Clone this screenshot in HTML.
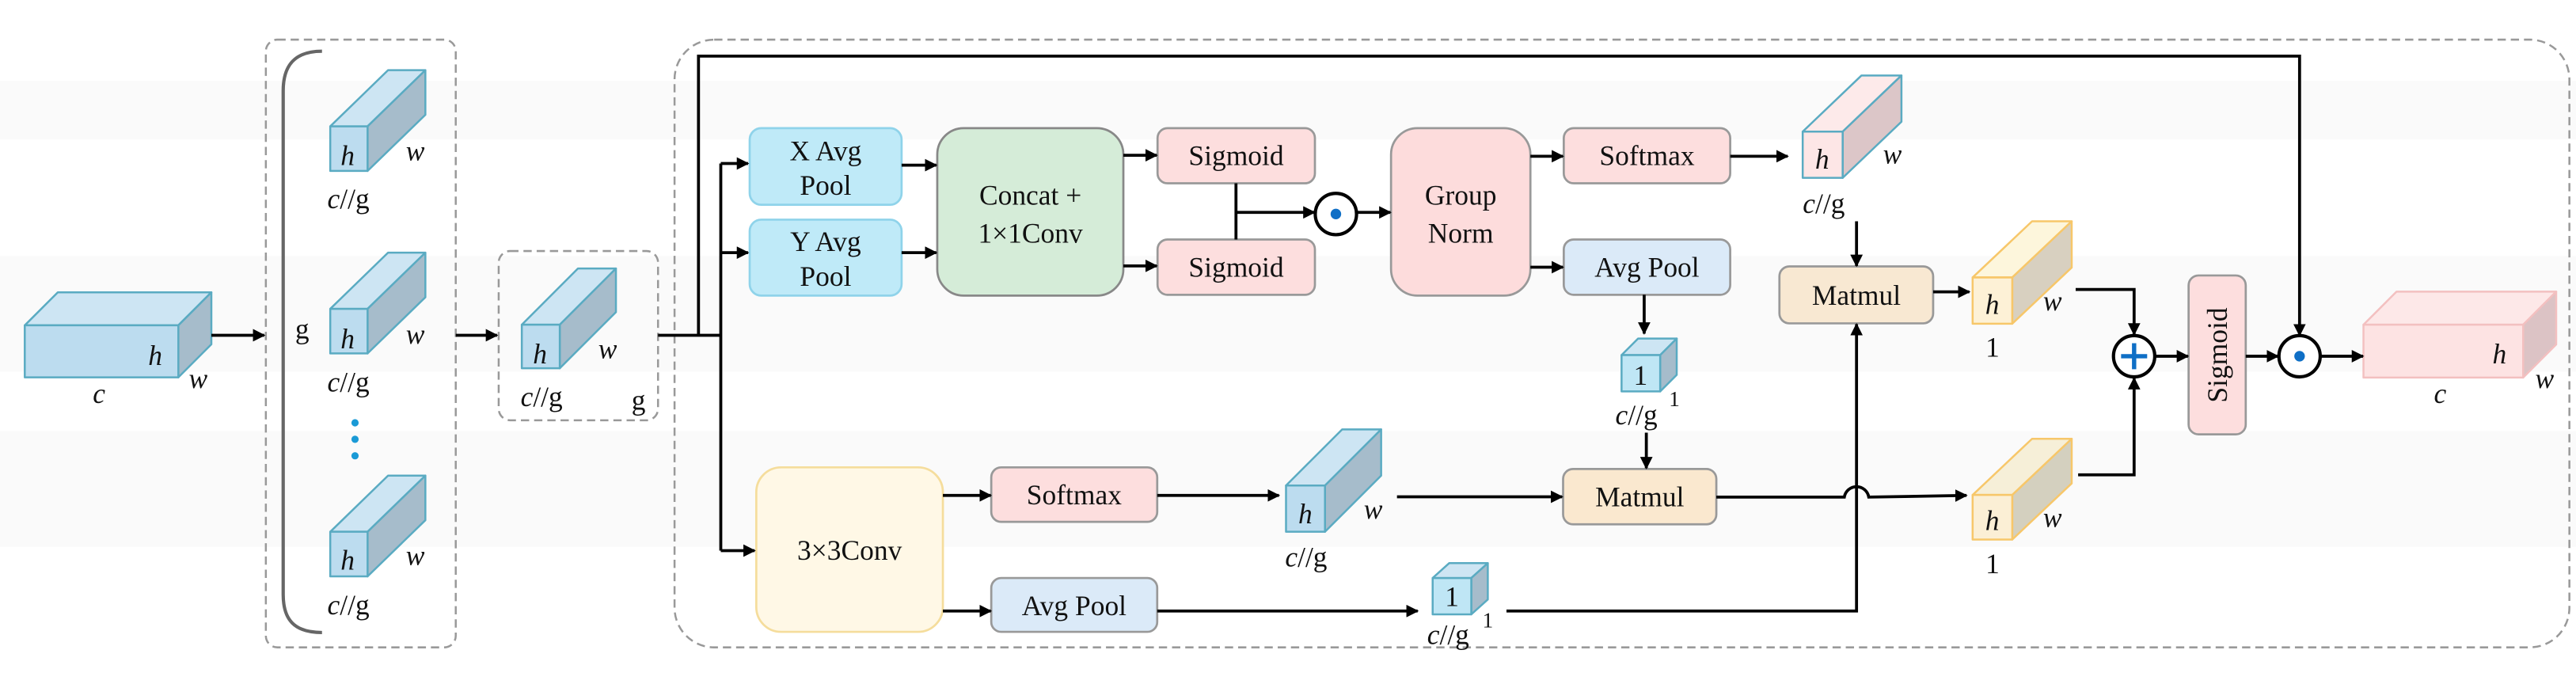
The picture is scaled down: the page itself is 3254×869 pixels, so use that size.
<!DOCTYPE html>
<html><head><meta charset="utf-8"><style>
html,body{margin:0;padding:0;background:#fff;}
svg{display:block;}
text{font-family:"Liberation Serif","DejaVu Serif",serif;fill:#111;}
.it{font-style:italic;}
</style></head><body>
<svg width="3254" height="869" viewBox="0 0 1560 416.6" preserveAspectRatio="none" xmlns="http://www.w3.org/2000/svg" font-family="Liberation Serif, serif">
<defs>
<marker id="ar" viewBox="0 0 10 10" refX="9" refY="5" markerWidth="4.2" markerHeight="4.2" orient="auto" markerUnits="strokeWidth">
<path d="M0,0 L10,5 L0,10 z" fill="#000"/></marker>
</defs>
<!-- bands -->
<rect x="0" y="49" width="1560" height="35.5" fill="#fafafa"/>
<rect x="0" y="155" width="1560" height="70" fill="#fafafa"/>
<rect x="0" y="261" width="1560" height="70" fill="#fafafa"/>

<!-- dashed boxes -->
<rect x="161" y="24" width="115" height="368" rx="7" fill="none" stroke="#999" stroke-width="1.2" stroke-dasharray="5,3"/>
<rect x="302" y="152" width="96.5" height="102.5" rx="7" fill="none" stroke="#999" stroke-width="1.2" stroke-dasharray="5,3"/>
<rect x="408.5" y="24" width="1147.5" height="368" rx="24" fill="none" stroke="#999" stroke-width="1.2" stroke-dasharray="5,3"/>
<!-- bracket -->
<path d="M195,31 C178,31 171.5,40 171.5,55 L171.5,360 C171.5,375 178,383 195,383" fill="none" stroke="#666" stroke-width="2"/>

<g stroke-linejoin="round">
<g stroke="#5aabc2" stroke-width="1.2">
<polygon points="15,197 35,177 128,177 108,197" fill="#cde5f3"/>
<polygon points="108,197 128,177 128,208.5 108,228.5" fill="#a6bccb"/>
<rect x="15" y="197" width="93" height="31.5" fill="#bcdcef"/>
</g>
<g stroke="#5aabc2" stroke-width="1.2">
<polygon points="200,76.5 235,42.5 257.6,42.5 222.6,76.5" fill="#cde5f3"/>
<polygon points="222.6,76.5 257.6,42.5 257.6,69.5 222.6,103.5" fill="#a6bccb"/>
<rect x="200" y="76.5" width="22.6" height="27" fill="#bcdcef"/>
<polygon points="200,187 235,153 257.6,153 222.6,187" fill="#cde5f3"/>
<polygon points="222.6,187 257.6,153 257.6,180 222.6,214" fill="#a6bccb"/>
<rect x="200" y="187" width="22.6" height="27" fill="#bcdcef"/>
<polygon points="200,322 235,288 257.6,288 222.6,322" fill="#cde5f3"/>
<polygon points="222.6,322 257.6,288 257.6,315 222.6,349" fill="#a6bccb"/>
<rect x="200" y="322" width="22.6" height="27" fill="#bcdcef"/>
<polygon points="316,196.6 350,162.6 373,162.6 339,196.6" fill="#cde5f3"/>
<polygon points="339,196.6 373,162.6 373,189 339,223" fill="#a6bccb"/>
<rect x="316" y="196.6" width="23" height="26.4" fill="#bcdcef"/>
<polygon points="982,215 992,205 1015.4,205 1005.4,215" fill="#cde5f3"/>
<polygon points="1005.4,215 1015.4,205 1015.4,227 1005.4,237" fill="#a6bccb"/>
<rect x="982" y="215" width="23.4" height="22" fill="#bfe6f5"/>
<polygon points="778.8,294 812.8,260 836.4,260 802.4,294" fill="#cde5f3"/>
<polygon points="802.4,294 836.4,260 836.4,288 802.4,322" fill="#a6bccb"/>
<rect x="778.8" y="294" width="23.6" height="28" fill="#bcdcef"/>
<polygon points="867.6,350 877.6,341 901,341 891,350" fill="#cde5f3"/>
<polygon points="891,350 901,341 901,363 891,372" fill="#a6bccb"/>
<rect x="867.6" y="350" width="23.4" height="22" fill="#bfe6f5"/>
<polygon points="1091.7,79.7 1127.3,45.7 1151.5,45.7 1115.9,79.7" fill="#fdeaea"/>
<polygon points="1115.9,79.7 1151.5,45.7 1151.5,73.7 1115.9,107.7" fill="#dcc6c8"/>
<rect x="1091.7" y="79.7" width="24.2" height="28" fill="#fde6e6"/>
</g>
<g stroke="#f7c76a" stroke-width="1.2">
<polygon points="1194.6,168 1230.6,134 1254.6,134 1218.6,168" fill="#fdf6dc"/>
<polygon points="1218.6,168 1254.6,134 1254.6,162 1218.6,196" fill="#d8d0c0"/>
<rect x="1194.6" y="168" width="24" height="28" fill="#fdf1d6"/>
<polygon points="1194.6,299.7 1230.6,265.7 1254.6,265.7 1218.6,299.7" fill="#f6efd8"/>
<polygon points="1218.6,299.7 1254.6,265.7 1254.6,292.7 1218.6,326.7" fill="#d4d0bf"/>
<rect x="1194.6" y="299.7" width="24" height="27" fill="#fbefd5"/>
</g>
<g stroke="#f3c0c0" stroke-width="1.2">
<polygon points="1431.3,196.6 1451.3,176.6 1548,176.6 1528,196.6" fill="#fde8e8"/>
<polygon points="1528,196.6 1548,176.6 1548,208.6 1528,228.6" fill="#dcc3c5"/>
<rect x="1431.3" y="196.6" width="96.7" height="32" fill="#fde3e3"/>
</g>
</g>

<g stroke-width="1.3">
<rect x="454" y="77.6" width="92" height="46.4" rx="7" fill="#bfeaf8" stroke="#8fd3ea"/>
<rect x="454" y="133" width="92" height="46" rx="7" fill="#bfeaf8" stroke="#8fd3ea"/>
<rect x="458" y="283" width="113" height="99.6" rx="15" fill="#fff8e6" stroke="#f5dd9c"/>
<rect x="567.6" y="77.6" width="112.7" height="101.4" rx="16" fill="#d5ecd8" stroke="#888"/>
<rect x="701" y="77.6" width="95.3" height="33.4" rx="6" fill="#fddede" stroke="#999"/>
<rect x="701" y="145" width="95.3" height="33.5" rx="6" fill="#fddede" stroke="#999"/>
<rect x="842.4" y="77.6" width="84.4" height="101.4" rx="16" fill="#fddcdc" stroke="#999"/>
<rect x="947" y="77.6" width="100.8" height="33.4" rx="6" fill="#fddede" stroke="#999"/>
<rect x="947" y="145" width="100.8" height="33.5" rx="6" fill="#dbeaf8" stroke="#999"/>
<rect x="946.6" y="284" width="92.8" height="33.5" rx="6" fill="#fae8cf" stroke="#999"/>
<rect x="600.3" y="283" width="100.5" height="33" rx="6" fill="#fddede" stroke="#999"/>
<rect x="600.3" y="350" width="100.5" height="32.6" rx="6" fill="#dbeaf8" stroke="#999"/>
<rect x="1077.6" y="161.3" width="93.1" height="34.5" rx="6" fill="#f8e8d2" stroke="#999"/>
<rect x="1325.4" y="166.8" width="34.6" height="96.2" rx="6" fill="#fddede" stroke="#999"/>
</g>

<g fill="none" stroke="#000" stroke-width="1.8">
<path d="M128,203 L160,203" marker-end="url(#ar)"/>
<path d="M276,203 L301,203" marker-end="url(#ar)"/>
<path d="M398.5,203 L436.5,203"/>
<path d="M423,203 L423,34 L1392.6,34 L1392.6,203" marker-end="url(#ar)"/>
<path d="M436.5,99 L436.5,333.4"/>
<path d="M436.5,99 L453,99" marker-end="url(#ar)"/>
<path d="M436.5,153 L453,153" marker-end="url(#ar)"/>
<path d="M436.5,333.4 L457,333.4" marker-end="url(#ar)"/>
<path d="M546,100 L567,100" marker-end="url(#ar)"/>
<path d="M546,153 L567,153" marker-end="url(#ar)"/>
<path d="M680.3,94 L700.5,94" marker-end="url(#ar)"/>
<path d="M680.3,161 L700.5,161" marker-end="url(#ar)"/>
<path d="M748.5,111 L748.5,145"/>
<path d="M748.5,128.6 L796,128.6" marker-end="url(#ar)"/>
<path d="M822,128.6 L842,128.6" marker-end="url(#ar)"/>
<path d="M926.8,94.6 L946.5,94.6" marker-end="url(#ar)"/>
<path d="M926.8,161.8 L946.5,161.8" marker-end="url(#ar)"/>
<path d="M1047.8,94.6 L1082.6,94.6" marker-end="url(#ar)"/>
<path d="M995.7,178.5 L995.7,202" marker-end="url(#ar)"/>
<path d="M997,262 L997,283.5" marker-end="url(#ar)"/>
<path d="M571,300 L600,300" marker-end="url(#ar)"/>
<path d="M700.8,300 L774.5,300" marker-end="url(#ar)"/>
<path d="M846,300.8 L946,300.8" marker-end="url(#ar)"/>
<path d="M571,370 L600,370" marker-end="url(#ar)"/>
<path d="M700.8,370 L858.5,370" marker-end="url(#ar)"/>
<path d="M912.3,370 L1124.3,370 L1124.3,196.3" marker-end="url(#ar)"/>
<path d="M1124.3,134 L1124.3,161" marker-end="url(#ar)"/>
<path d="M1170.7,176.7 L1192.6,176.7" marker-end="url(#ar)"/>
<path d="M1039.4,301 L1116.9,301 A7.5,7.5 0 0 1 1131.7,301 L1190.9,300" marker-end="url(#ar)"/>
<path d="M1257,175.3 L1292.4,175.3 L1292.4,202.5" marker-end="url(#ar)"/>
<path d="M1258.5,287.5 L1292.4,287.5 L1292.4,229" marker-end="url(#ar)"/>
<path d="M1305,215.7 L1325,215.7" marker-end="url(#ar)"/>
<path d="M1360,215.7 L1379.5,215.7" marker-end="url(#ar)"/>
<path d="M1405.5,215.7 L1431,215.7" marker-end="url(#ar)"/>
</g>
<circle cx="809" cy="129.6" r="12.5" fill="#fff" stroke="#000" stroke-width="2"/>
<circle cx="809" cy="129.6" r="3.2" fill="#0f6fc6"/>
<circle cx="1292.4" cy="215.7" r="12.5" fill="#fff" stroke="#000" stroke-width="2"/>
<path d="M1284.5,215.7 L1300.3,215.7 M1292.4,207.8 L1292.4,223.6" stroke="#0f6fc6" stroke-width="2.6"/>
<circle cx="1392.6" cy="215.7" r="12.5" fill="#fff" stroke="#000" stroke-width="2"/>
<circle cx="1392.6" cy="215.7" r="3.2" fill="#0f6fc6"/>
<circle cx="215" cy="256" r="2.2" fill="#1a9ad6"/>
<circle cx="215" cy="266" r="2.2" fill="#1a9ad6"/>
<circle cx="215" cy="276" r="2.2" fill="#1a9ad6"/>

<g font-size="17" text-anchor="middle" font-family="Liberation Serif, serif">
<text x="500" y="97">X Avg</text><text x="500" y="118">Pool</text>
<text x="500" y="152">Y Avg</text><text x="500" y="173">Pool</text>
<text x="514.5" y="339">3×3Conv</text>
<text x="624" y="124">Concat +</text><text x="624" y="147">1×1Conv</text>
<text x="748.6" y="100">Sigmoid</text>
<text x="748.6" y="167.5">Sigmoid</text>
<text x="884.6" y="124">Group</text><text x="884.6" y="147">Norm</text>
<text x="997.4" y="100">Softmax</text>
<text x="997.4" y="167.5">Avg Pool</text>
<text x="993" y="306.5">Matmul</text>
<text x="650.5" y="305.5">Softmax</text>
<text x="650.5" y="372.5">Avg Pool</text>
<text x="1124.2" y="184.5">Matmul</text>
<text transform="translate(1348.5,215) rotate(-90)">Sigmoid</text>
</g>
<g font-size="17" text-anchor="middle" font-family="Liberation Serif, serif">
<text class="it" x="94" y="221">h</text><text class="it" x="120" y="235">w</text><text class="it" x="60" y="244">c</text>
<text class="it" x="210.5" y="100">h</text><text class="it" x="251.5" y="97">w</text><text x="211" y="126"><tspan class="it">c</tspan>//g</text>
<text class="it" x="210.5" y="211">h</text><text class="it" x="251.5" y="208">w</text><text x="211" y="237"><tspan class="it">c</tspan>//g</text><text x="183" y="205">g</text>
<text class="it" x="210.5" y="345">h</text><text class="it" x="251.5" y="342">w</text><text x="211" y="372"><tspan class="it">c</tspan>//g</text>
<text class="it" x="327" y="220">h</text><text class="it" x="368" y="217">w</text><text x="328" y="246"><tspan class="it">c</tspan>//g</text><text x="386.7" y="248">g</text>
<text x="993.5" y="233">1</text><text x="991" y="257"><tspan class="it">c</tspan>//g</text><text x="1014" y="246" font-size="13">1</text>
<text class="it" x="790.5" y="317">h</text><text class="it" x="831.6" y="314">w</text><text x="791" y="343"><tspan class="it">c</tspan>//g</text>
<text x="879.3" y="367">1</text><text x="877" y="390"><tspan class="it">c</tspan>//g</text><text x="901" y="380" font-size="13">1</text>
<text class="it" x="1103.5" y="102">h</text><text class="it" x="1146" y="99">w</text><text x="1104.5" y="129"><tspan class="it">c</tspan>//g</text>
<text class="it" x="1206.5" y="190">h</text><text class="it" x="1243" y="188">w</text><text x="1206.7" y="216">1</text>
<text class="it" x="1206.5" y="321">h</text><text class="it" x="1243" y="319">w</text><text x="1206.7" y="347">1</text>
<text class="it" x="1513.7" y="220">h</text><text class="it" x="1541" y="235">w</text><text class="it" x="1477.7" y="244">c</text>
</g>
</svg>
</body></html>
